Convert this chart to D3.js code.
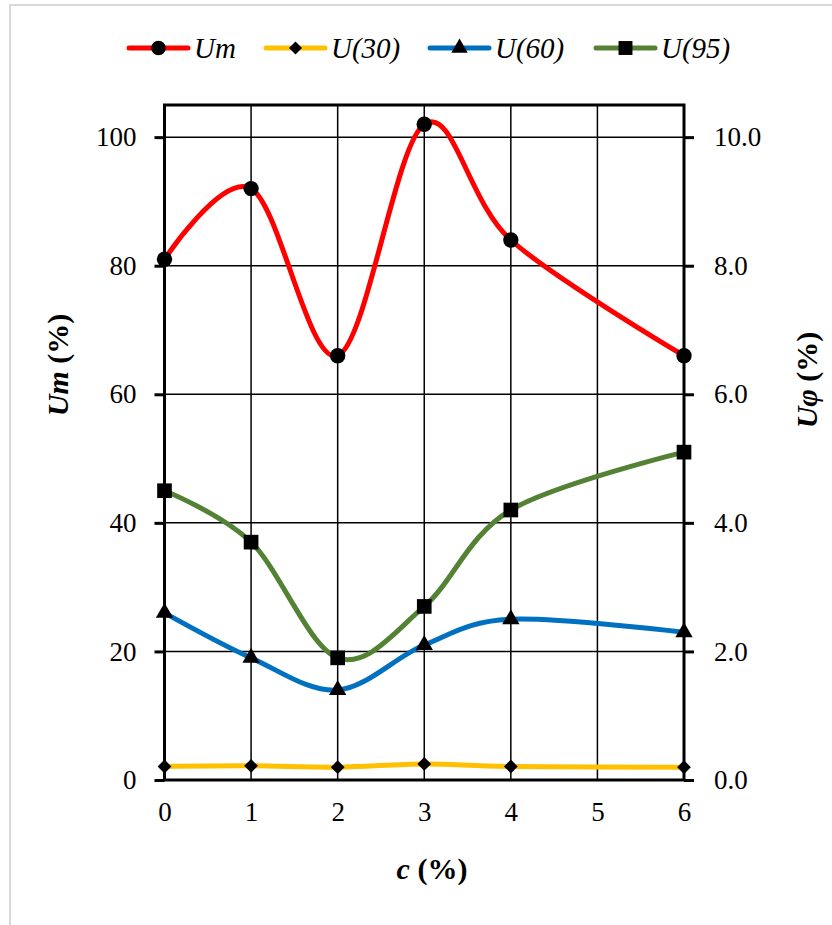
<!DOCTYPE html>
<html><head><meta charset="utf-8">
<script src="https://cdn.jsdelivr.net/npm/d3@7"></script>
<style>
body{margin:0;background:#fff}
svg{display:block}
text{font-family:"Liberation Serif","Times New Roman",serif;fill:#000}
</style>
</head><body><svg id="c" width="832" height="925"></svg>
<script>
// ---- data ----
const cValues = [0, 1, 2, 3, 4, 6];
const xTicks = [0, 1, 2, 3, 4, 5, 6];
const um  = [81, 92, 66, 102, 84, 66];
const u30 = [0.21, 0.22, 0.20, 0.25, 0.21, 0.20];
const u60 = [2.6, 1.9, 1.4, 2.1, 2.5, 2.3];
const u95 = [4.5, 3.7, 1.9, 2.7, 4.2, 5.1];
const leftTicks = [0, 20, 40, 60, 80, 100];
const rightTicks = [0, 2, 4, 6, 8, 10];
const seriesNames = ["Um", "U(30)", "U(60)", "U(95)"];

// ---- layout ----
const svg = d3.select("#c");
const L = 164.5, R = 684, T = 105, B = 780;
const x = d3.scaleLinear().domain([0, 6]).range([L, R]);
const yL = d3.scaleLinear().domain([0, 105]).range([B, T]);
const yR = d3.scaleLinear().domain([0, 10.5]).range([B, T]);

// outer light border
svg.append("rect").attr("x", 10).attr("y", 5).attr("width", 840).attr("height", 940)
  .attr("fill", "#fff").attr("stroke", "#d9d9d9").attr("stroke-width", 2);

// gridlines
const g = svg.append("g");
g.selectAll(".hg").data(leftTicks.filter(d => d > 0)).join("line")
  .attr("x1", L).attr("x2", R).attr("y1", d => yL(d)).attr("y2", d => yL(d))
  .attr("stroke", "#000").attr("stroke-width", 1.5);
g.selectAll(".vg").data(xTicks.filter(d => d > 0 && d < 6)).join("line")
  .attr("x1", d => x(d)).attr("x2", d => x(d)).attr("y1", T).attr("y2", B)
  .attr("stroke", "#000").attr("stroke-width", 1.5);

// frame
svg.append("rect").attr("x", L).attr("y", T).attr("width", R - L).attr("height", B - T)
  .attr("fill", "none").attr("stroke", "#000").attr("stroke-width", 3);

// axes
const axL = svg.append("g").attr("transform", `translate(${L},0)`)
  .call(d3.axisLeft(yL).tickValues(leftTicks).tickSize(10).tickPadding(18).tickFormat(d3.format("d")));
const axR = svg.append("g").attr("transform", `translate(${R},0)`)
  .call(d3.axisRight(yR).tickValues(rightTicks).tickSize(10).tickPadding(20).tickFormat(d3.format(".1f")));
const axB = svg.append("g").attr("transform", `translate(0,${B})`)
  .call(d3.axisBottom(x).tickValues(xTicks).tickSize(0).tickPadding(22).tickFormat(d3.format("d")));
[axL, axR, axB].forEach(a => {
  a.select(".domain").remove();
  a.selectAll("line").attr("stroke", "#000").attr("stroke-width", 3);
  a.selectAll("text").attr("font-size", 27).attr("font-family", "'Liberation Serif','Times New Roman',serif").attr("fill", "#000");
});
axB.selectAll(".tick text").attr("dy", "0.71em");

// series
const curve = d3.curveCatmullRom.alpha(0);
const series = [
  {name: seriesNames[0], vals: um,  y: yL, color: "#ff0000", sym: d3.symbolCircle, size: 185, rot: 0},
  {name: seriesNames[1], vals: u30, y: yR, color: "#ffc000", sym: d3.symbolSquare, size: 95, rot: 45},
  {name: seriesNames[2], vals: u60, y: yR, color: "#0070c0", sym: d3.symbolTriangle, size: 130, rot: 0},
  {name: seriesNames[3], vals: u95, y: yR, color: "#548235", sym: d3.symbolSquare, size: 215, rot: 0}
];
const drawOrder = [3, 2, 1, 0];
drawOrder.forEach(i => {
  const s = series[i];
  const pts = cValues.map((c, k) => [c, s.vals[k]]);
  svg.append("path").datum(pts)
    .attr("d", d3.line().x(d => x(d[0])).y(d => s.y(d[1])).curve(curve))
    .attr("fill", "none").attr("stroke", s.color).attr("stroke-width", 5).attr("stroke-linecap", "round");
});
drawOrder.forEach(i => {
  const s = series[i];
  svg.append("g").selectAll("path").data(cValues.map((c, k) => [c, s.vals[k]])).join("path")
    .attr("transform", d => `translate(${x(d[0])},${s.y(d[1])}) rotate(${s.rot})`)
    .attr("d", d3.symbol().type(s.sym).size(s.size)).attr("fill", "#000");
});

// legend
const legX = [129, 266, 430, 596];
const lg = svg.append("g");
series.forEach((s, i) => {
  const x0 = legX[i];
  lg.append("line").attr("x1", x0).attr("x2", x0 + 59).attr("y1", 48).attr("y2", 48)
    .attr("stroke", s.color).attr("stroke-width", 5).attr("stroke-linecap", "round");
  lg.append("path").attr("transform", `translate(${x0 + 29.5},48) rotate(${s.rot})`)
    .attr("d", d3.symbol().type(s.sym).size(s.size * 0.9)).attr("fill", "#000");
  lg.append("text").attr("x", x0 + 65).attr("y", 48).attr("dy", "0.35em")
    .attr("font-size", 29).attr("font-style", "italic").text(s.name);
});

// axis titles
const tB = svg.append("text").attr("x", 432).attr("y", 868).attr("dy", "0.35em")
  .attr("text-anchor", "middle").attr("font-size", 30).attr("font-weight", "bold");
tB.append("tspan").attr("font-style", "italic").text("c");
tB.append("tspan").text(" (%)");

const tL = svg.append("text").attr("transform", "translate(57,365) rotate(-90)").attr("dy", "0.35em")
  .attr("text-anchor", "middle").attr("font-size", 30).attr("font-weight", "bold");
tL.append("tspan").attr("font-style", "italic").text("Um");
tL.append("tspan").text(" (%)");

const tR = svg.append("text").attr("transform", "translate(806,380) rotate(-90)").attr("dy", "0.35em")
  .attr("text-anchor", "middle").attr("font-size", 30).attr("font-weight", "bold");
tR.append("tspan").attr("font-style", "italic").text("Uφ");
tR.append("tspan").text(" (%)");
</script>
</body></html>
